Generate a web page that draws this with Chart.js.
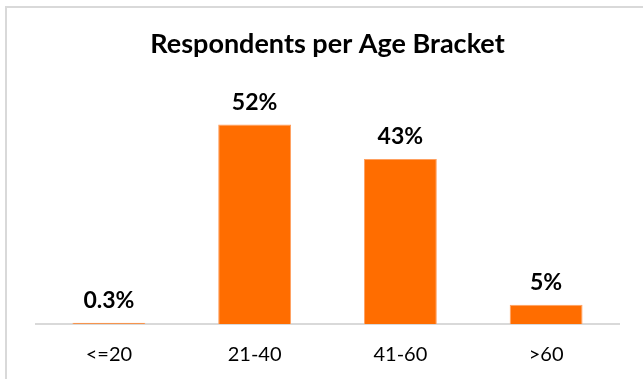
<!DOCTYPE html>
<html>
<head>
<meta charset="utf-8">
<script src="https://cdn.jsdelivr.net/npm/chart.js@4"></script>
<style>
  html, body { margin: 0; padding: 0; background: #fff; }
  body { width: 643px; height: 379px; overflow: hidden; position: relative; }
  .frame {
    position: absolute; left: 5px; top: 6px; width: 700px; height: 500px;
    border: 2px solid #d9d9d9; box-sizing: border-box;
  }
  .wrap { position: absolute; left: 0; top: 0; width: 643px; height: 379px; }
</style>
</head>
<body>
<div class="frame"></div>
<div class="wrap"><canvas id="chart" width="643" height="379"></canvas></div>
<script>
const ageBrackets = ['<=20', '21-40', '41-60', '>60']
const shares = [0.3, 52, 43, 5]
const shareLabels = ['0.3%', '52%', '43%', '5%']

// percentage text above each bar, placed from the bar element itself
const barValueLabels = {
  id: 'barValueLabels',
  afterDatasetsDraw(chart) {
    const { ctx } = chart
    const meta = chart.getDatasetMeta(0)
    ctx.save()
    ctx.font = 'bold 23px Lato'
    ctx.fillStyle = '#000'
    ctx.textAlign = 'center'
    ctx.textBaseline = 'alphabetic'
    meta.data.forEach((bar, i) => {
      ctx.fillText(shareLabels[i], bar.x, bar.y - 15)
    })
    ctx.restore()
  },
}

new Chart(document.getElementById('chart'), {
  type: 'bar',
  data: {
    labels: ageBrackets,
    datasets: [
      {
        data: shares,
        backgroundColor: '#ff6d00',
        borderColor: '#ffa060',
        borderWidth: 1,
        barPercentage: 0.5,
        categoryPercentage: 1,
      },
    ],
  },
  options: {
    responsive: false,
    animation: false,
    layout: { padding: { left: 36, right: 24, top: 0, bottom: -7 } },
    plugins: {
      legend: { display: false },
      tooltip: { enabled: false },
      title: {
        display: true,
        text: 'Respondents per Age Bracket',
        color: '#000',
        font: { family: 'Lato', size: 27, weight: 'bold' },
        padding: { top: 28.5, bottom: 33 },
      },
    },
    scales: {
      x: {
        grid: { display: false, drawTicks: false },
        border: { color: '#d9d9d9', width: 2 },
        ticks: {
          color: '#000',
          padding: 19,
          font: { family: 'Lato', size: 20 },
          maxRotation: 0,
          minRotation: 0,
        },
      },
      y: {
        display: false,
        min: 0,
        max: 60,
      },
    },
  },
  plugins: [barValueLabels],
})
</script>
</body>
</html>
